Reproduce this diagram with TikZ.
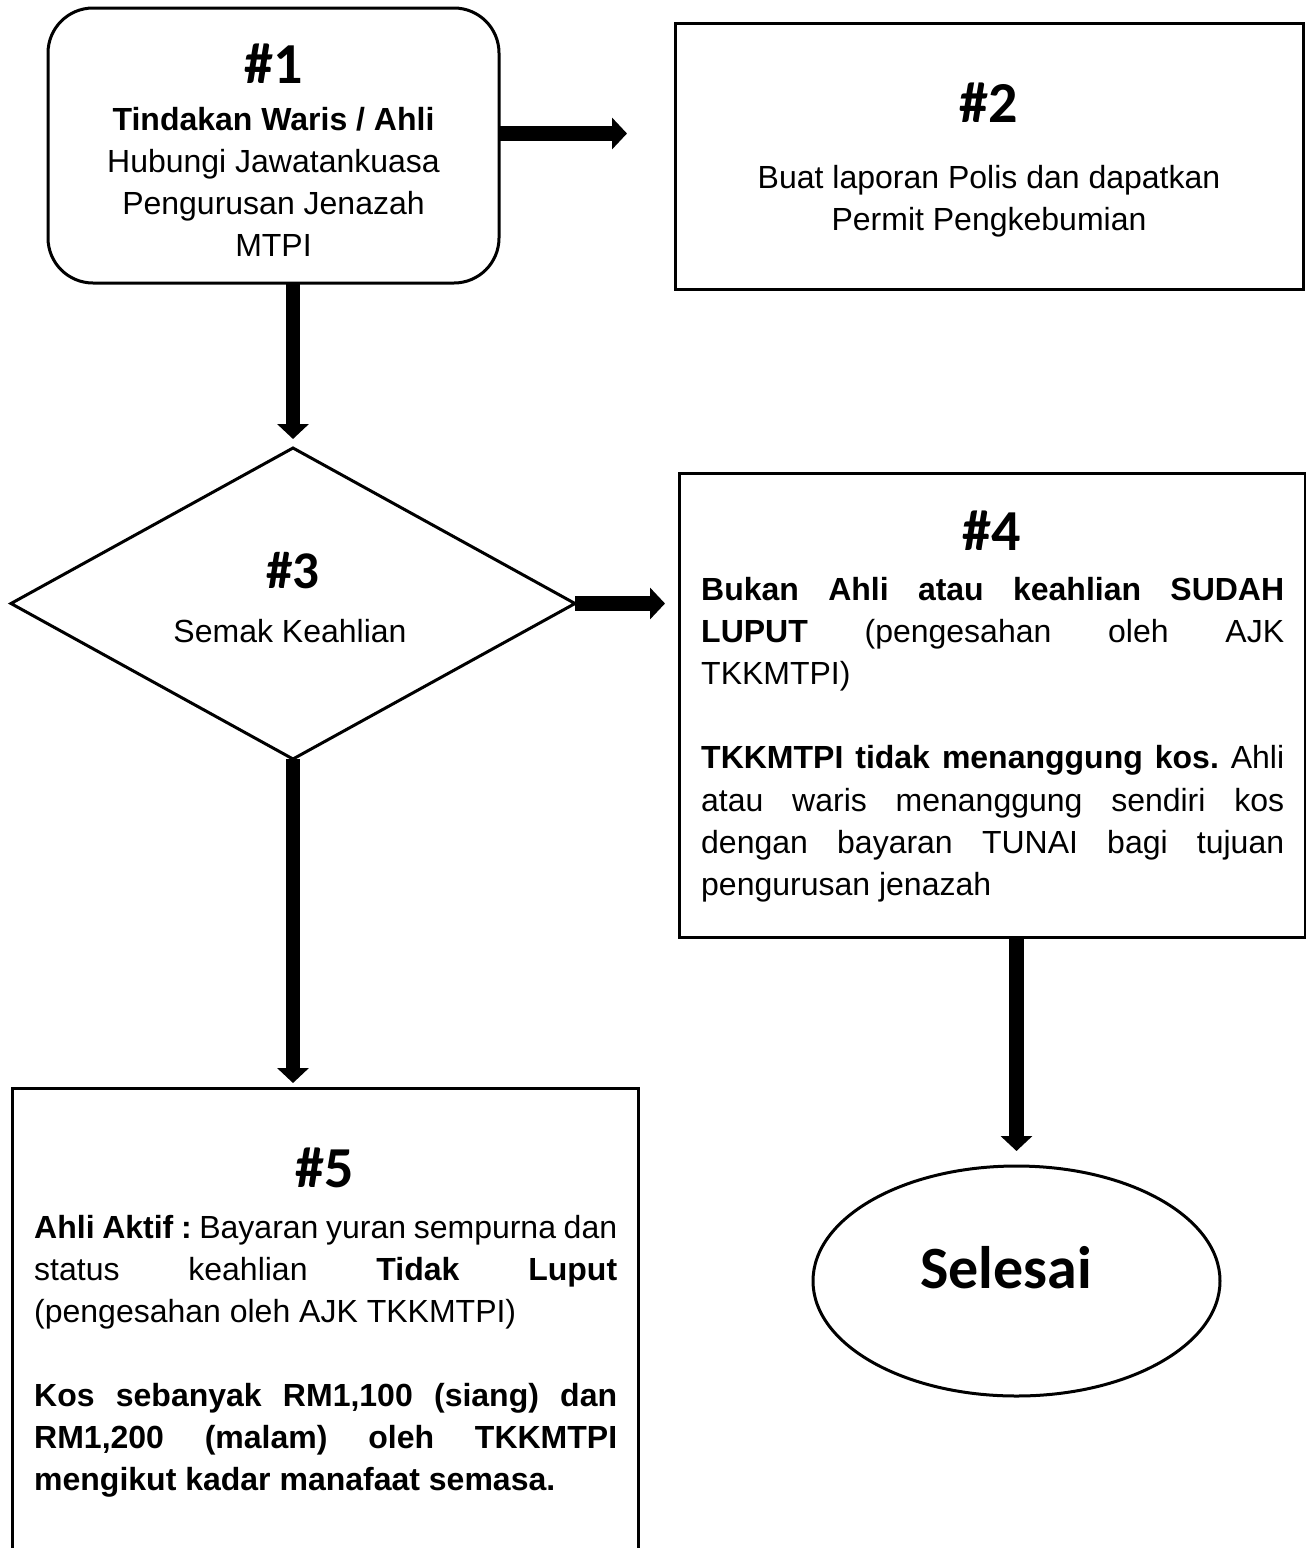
\documentclass[tikz,border=0pt]{standalone}
\usepackage{fontspec}
\setmainfont{Liberation Sans}
\newfontfamily\hdrfont{Carlito}
\usetikzlibrary{arrows.meta,shapes.geometric}
\newcommand\jl[1]{\hbox to \hsize{#1}}
\newcommand\cl[1]{\hbox to \hsize{\hfil#1\hfil}}
\newcommand\lastl[1]{\hbox{#1}}
\begin{document}
\begin{tikzpicture}[x=1pt,y=-1pt,
  box/.style={draw, line width=3pt, inner sep=0pt, outer sep=0pt},
  bigarrow/.style={line width=14.5pt, -{Triangle[width=31pt,length=15pt]}},
  hdr/.style={inner sep=0pt, anchor=base, font=\hdrfont\bfseries\fontsize{58}{60}\selectfont},
  body/.style={inner sep=0pt, font=\fontsize{32}{42}\selectfont},
]
\useasboundingbox (0,0) rectangle (1306,1548);
\clip (0,0) rectangle (1306,1548);

% #1
\node[box, rounded corners=45pt, minimum width=451pt, minimum height=275pt] (n1) at (273.5,145.5) {};
\node[hdr] (h1) at (273.5,83) {\#1};
\node[body, anchor=base] (t1) at (273.5,130) {\vtop{\hsize=440pt\baselineskip=42pt
  \cl{\textbf{Tindakan Waris / Ahli}}
  \cl{Hubungi Jawatankuasa}
  \cl{Pengurusan Jenazah}
  \cl{MTPI}}};

% #2
\node[box, minimum width=628pt, minimum height=266pt] (n2) at (989,156) {};
\node[hdr] (h2) at (989,122) {\#2};
\node[body, anchor=base] (t2) at (989,188) {\vtop{\hsize=600pt\baselineskip=42pt
  \cl{Buat laporan Polis dan dapatkan}
  \cl{Permit Pengkebumian}}};

% #3
\node[box, diamond, minimum width=564pt, minimum height=311pt] (n3) at (293,603.5) {};
\node[hdr, font=\hdrfont\bfseries\fontsize{53}{55}\selectfont] (h3) at (293,588) {\#3};
\node[body, anchor=base] (t3) at (290,642) {Semak Keahlian};

% #4
\node[box, minimum width=626pt, minimum height=464pt] (n4) at (992,705) {};
\node[hdr] (h4) at (992,550) {\#4};
\node[body, anchor=base west] (t4) at (701,600) {\vtop{\hsize=583pt\baselineskip=42.2pt\frenchspacing
  \jl{\textbf{Bukan Ahli atau keahlian SUDAH}}
  \jl{\textbf{LUPUT} (pengesahan oleh AJK}
  \lastl{TKKMTPI)}
  \vskip42.2pt
  \jl{\textbf{TKKMTPI tidak menanggung kos.} Ahli}
  \jl{atau waris menanggung sendiri kos}
  \jl{dengan bayaran TUNAI bagi tujuan}
  \lastl{pengurusan jenazah}}};

% Selesai
\node[box, ellipse, minimum width=407pt, minimum height=230pt] (n6) at (1016.5,1281) {};
\node[inner sep=0pt, anchor=base, font=\hdrfont\bfseries\fontsize{60}{62}\selectfont] (t6) at (1006,1288) {Selesai};

% #5
\node[box, anchor=north, minimum width=626pt, minimum height=520pt] (n5) at (325,1088) {};
\node[hdr] (h5) at (325,1187) {\#5};
\node[body, anchor=base west] (t5) at (34,1238) {\vtop{\hsize=583pt\baselineskip=42pt\frenchspacing
  \jl{\textbf{Ahli Aktif :} Bayaran yuran sempurna dan}
  \jl{status keahlian \textbf{Tidak Luput}}
  \lastl{(pengesahan oleh AJK TKKMTPI)}
  \vskip42pt
  \jl{\textbf{Kos sebanyak RM1,100 (siang) dan}}
  \jl{\textbf{RM1,200 (malam) oleh TKKMTPI}}
  \lastl{\textbf{mengikut kadar manafaat semasa.}}}};

% connectors
\coordinate (yA) at (0,133.5);
\draw[bigarrow, shorten >=48pt] (n1.east |- yA) -- (n2.west |- yA);
\draw[bigarrow, shorten >=9pt] (n3.north |- n1.south) -- (n3.north);
\draw[bigarrow, shorten >=14pt] (n3.east) -- (n3.east -| n4.west);
\draw[bigarrow, shorten >=5pt] (n3.south) -- (n3.south |- n5.north);
\draw[bigarrow, shorten >=15pt] (n6.north |- n4.south) -- (n6.north);
\end{tikzpicture}
\end{document}
